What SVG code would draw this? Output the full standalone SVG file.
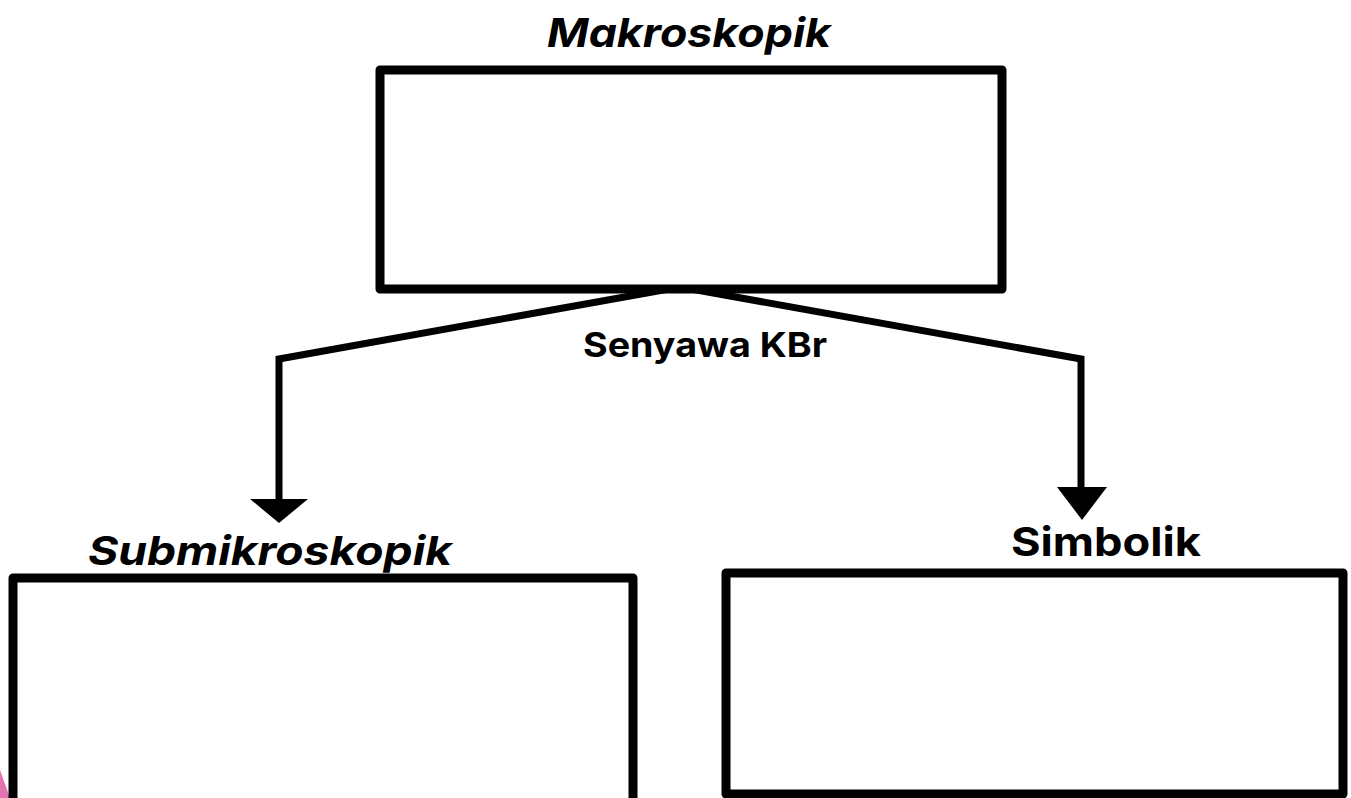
<svg xmlns="http://www.w3.org/2000/svg" width="1351" height="798" viewBox="0 0 1351 798">
  <defs>
    <style>
      .box { fill: #ffffff; stroke: #000000; stroke-width: 9; stroke-linejoin: round; }
      .wire { fill: none; stroke: #000000; stroke-width: 7; stroke-linejoin: miter; }
      .head { fill: #000000; }
      .title { font-family: "Inter", "Liberation Sans", sans-serif; font-weight: 700; fill: #000000; }
      .italic { font-style: italic; }
    </style>
  </defs>

  <rect width="1351" height="798" fill="#ffffff"/>
  <!-- corner accent -->
  <path d="M0,770 L10,798 L0,798 Z" fill="#e0509e" opacity="0.8"/>

  <g id="connectors">
    <polyline class="wire" points="279,500 279,359 680,287 1081,359 1081,490"/>
    <polygon class="head" points="250,499 308,499 279,523"/>
    <polygon class="head" points="1057,487 1107,487 1082,520"/>
  </g>

  <g id="node-makroskopik">
    <rect class="box" x="380" y="70" width="622" height="219"/>
    <text class="title italic" x="689" y="47" font-size="40" text-anchor="middle" textLength="284" lengthAdjust="spacingAndGlyphs">Makroskopik</text>
  </g>

  <g id="label-senyawa">
    <text class="title" x="705" y="357" font-size="34" text-anchor="middle" textLength="244" lengthAdjust="spacingAndGlyphs">Senyawa KBr</text>
  </g>

  <g id="node-submikroskopik">
    <rect class="box" x="13" y="578" width="620" height="240"/>
    <text class="title italic" x="270" y="565" font-size="40" text-anchor="middle" textLength="364" lengthAdjust="spacingAndGlyphs">Submikroskopik</text>
  </g>

  <g id="node-simbolik">
    <rect class="box" x="726" y="573" width="617" height="221"/>
    <text class="title" x="1106" y="556" font-size="40" text-anchor="middle" textLength="190" lengthAdjust="spacingAndGlyphs">Simbolik</text>
  </g>
</svg>
